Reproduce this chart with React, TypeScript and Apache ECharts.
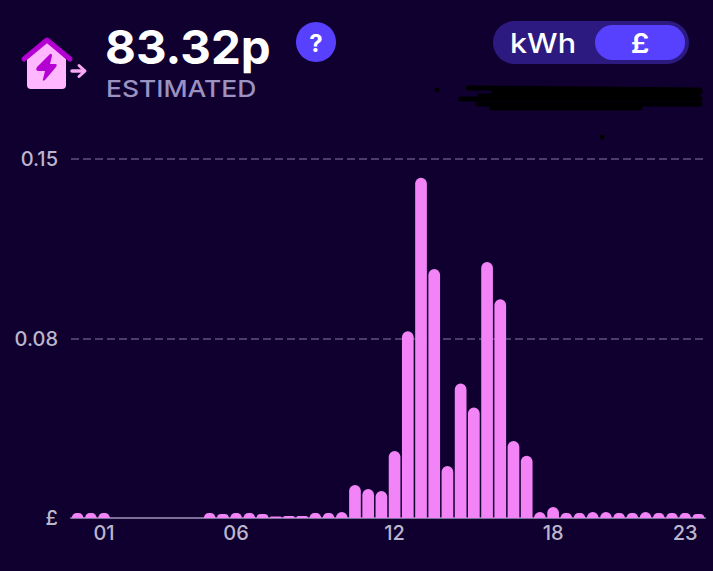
import React, { useEffect, useRef } from "react";
import * as echarts from "echarts";

const halfHours = Array.from({ length: 48 }, (_, i) => String(Math.floor(i / 2)).padStart(2, "0"));
const shownTickIndexes = [2, 12, 24, 36, 46];
const values = [
  0.0021, 0.0021, 0.0021, 0, 0, 0, 0, 0, 0, 0,
  0.0021, 0.0017, 0.0021, 0.0021, 0.0017, 0.0006, 0.0008, 0.0008, 0.0021, 0.0021,
  0.0025, 0.0138, 0.0121, 0.0113, 0.028, 0.078, 0.1422, 0.104, 0.0217, 0.0562,
  0.0462, 0.107, 0.0914, 0.0322, 0.026, 0.0025, 0.0046, 0.0021, 0.0021, 0.0025,
  0.0025, 0.0021, 0.0021, 0.0025, 0.0021, 0.0021, 0.0021, 0.0017,
];
const yTicks = [0, 0.075, 0.15];
const yTickLabels = ["£", "0.08", "0.15"];

const FONT = "Inter";
const BG = "#100030";
const PINK = "#f284f8";
const LABEL = "#bcb6cc";
const PURPLE = "#5840ff";
const MAGENTA = "#b400d2";

echarts.graphic.registerShape(
  "houseBody",
  echarts.graphic.extendPath(
    "M27 59 L47 42 L66 59 L66 85 Q66 89 62 89 L31 89 Q27 89 27 85 Z",
    {}
  )
);
echarts.graphic.registerShape(
  "bolt",
  echarts.graphic.extendPath(
    "M50 54 Q52 53 52 56 L50 64 L55 64 Q58 64 56 67 L45 80 Q42 82 43 79 L45 71 L38 71 Q35 70 37 67 Z",
    {}
  )
);

export default function App() {
  const ref = useRef<HTMLDivElement>(null);
  useEffect(() => {
    document.body.style.margin = "0";
    document.body.style.background = BG;
    const chart = echarts.init(ref.current!, undefined, { renderer: "svg" });
    const scribble = [
      [468, 88, 700, 90],
      [494, 92, 700, 92],
      [461, 99, 700, 99],
      [480, 96, 698, 96],
      [478, 104, 700, 104],
      [492, 108, 640, 108],
    ];
    chart.setOption({
      animation: false,
      backgroundColor: BG,
      textStyle: { fontFamily: FONT },
      grid: { left: 71, right: 8, top: 159, bottom: 53, containLabel: false },
      xAxis: {
        type: "category",
        data: halfHours,
        axisLine: { show: true, lineStyle: { color: "#7d6e9a", width: 2 } },
        axisTick: { show: false },
        axisLabel: {
          color: LABEL,
          fontFamily: FONT,
          fontSize: 20,
          fontWeight: 500,
          margin: 5,
          interval: (i: number) => shownTickIndexes.includes(i),
        },
      },
      yAxis: {
        type: "value",
        min: 0,
        max: 0.15,
        interval: yTicks[1],
        axisLine: { show: false },
        axisTick: { show: false },
        splitLine: { lineStyle: { color: "#5f5080", type: [8, 4], width: 1.5 } },
        axisLabel: {
          color: LABEL,
          fontFamily: FONT,
          fontSize: 20,
          fontWeight: 500,
          margin: 13,
          formatter: (v: number) => yTickLabels[yTicks.findIndex((t) => Math.abs(t - v) < 1e-6)] ?? "",
        },
      },
      series: [
        {
          type: "bar",
          data: values,
          barWidth: 11.7,
          itemStyle: { color: PINK, borderRadius: [6, 6, 0, 0] },
        },
      ],
      graphic: [
        { type: "houseBody", z: 10, style: { fill: "#ffb8ff" } },
        {
          type: "polyline",
          z: 11,
          shape: { points: [[24, 59], [47, 40], [70, 59]] },
          style: { stroke: MAGENTA, lineWidth: 5, lineCap: "round", lineJoin: "round", fill: "none" },
        },
        { type: "bolt", z: 12, style: { fill: MAGENTA } },
        {
          type: "polyline",
          z: 11,
          shape: { points: [[72, 71], [84, 71]] },
          style: { stroke: "#f8a8f4", lineWidth: 3.5, lineCap: "round", fill: "none" },
        },
        {
          type: "polyline",
          z: 11,
          shape: { points: [[79, 65.5], [85, 71], [79, 76.5]] },
          style: { stroke: "#f8a8f4", lineWidth: 3, lineCap: "round", lineJoin: "round", fill: "none" },
        },
        {
          type: "text",
          z: 10,
          x: 105,
          y: 47,
          scaleX: 1.01,
          style: { text: "83.32p", fill: "#ffffff", fontFamily: FONT, fontSize: 47, fontWeight: 700, verticalAlign: "middle", align: "left" },
        },
        {
          type: "text",
          z: 10,
          x: 106,
          y: 89,
          scaleX: 1.15,
          style: { text: "ESTIMATED", fill: "#9a92c0", fontFamily: FONT, fontSize: 23, fontWeight: 500, verticalAlign: "middle", align: "left" },
        },
        { type: "circle", z: 10, shape: { cx: 316, cy: 42, r: 20 }, style: { fill: PURPLE } },
        {
          type: "text",
          z: 11,
          x: 316,
          y: 43,
          style: { text: "?", fill: "#ffffff", fontFamily: FONT, fontSize: 24, fontWeight: 700, align: "center", verticalAlign: "middle" },
        },
        { type: "rect", z: 10, shape: { x: 493, y: 21, width: 196, height: 43, r: 21.5 }, style: { fill: "#2d1a80" } },
        { type: "rect", z: 11, shape: { x: 595, y: 25, width: 90, height: 35, r: 17.5 }, style: { fill: PURPLE } },
        {
          type: "text",
          z: 12,
          x: 543,
          y: 43,
          scaleX: 1.13,
          style: { text: "kWh", fill: "#ffffff", fontFamily: FONT, fontSize: 27, fontWeight: 500, align: "center", verticalAlign: "middle" },
        },
        {
          type: "text",
          z: 12,
          x: 640,
          y: 43,
          scaleX: 1.1,
          style: { text: "£", fill: "#ffffff", fontFamily: FONT, fontSize: 27, fontWeight: 600, align: "center", verticalAlign: "middle" },
        },
        ...scribble.map(([x1, y1, x2, y2]) => ({
          type: "line",
          z: 10,
          shape: { x1, y1, x2, y2 },
          style: { stroke: "#000000", lineWidth: 5, lineCap: "round" },
        })),
        { type: "circle", z: 10, shape: { cx: 437, cy: 90, r: 2.5 }, style: { fill: "#000000" } },
        { type: "circle", z: 10, shape: { cx: 602, cy: 137, r: 2.5 }, style: { fill: "#000000" } },
      ],
    });
    return () => chart.dispose();
  }, []);
  return <div ref={ref} style={{ width: 713, height: 571 }} />;
}
